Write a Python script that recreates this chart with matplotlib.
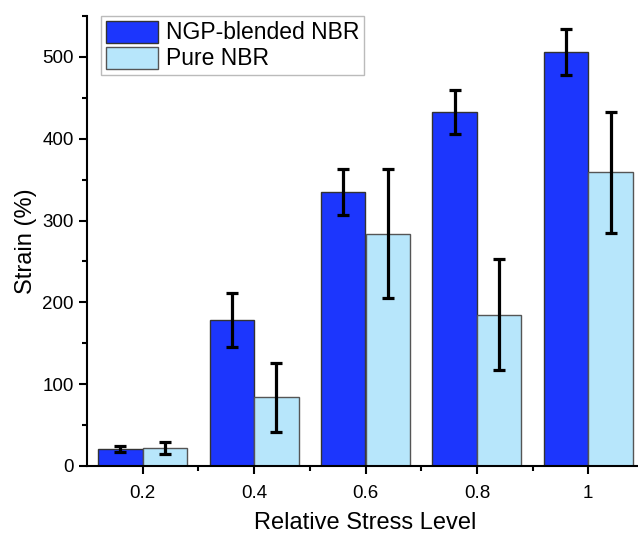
import matplotlib
matplotlib.use("Agg")
import matplotlib.pyplot as plt
import numpy as np
from matplotlib.ticker import MultipleLocator, FixedLocator

plt.rcParams['font.family'] = ['Liberation Sans', 'DejaVu Sans']

# data
stress = [0.2, 0.4, 0.6, 0.8, 1.0]
stress_labels = ["0.2", "0.4", "0.6", "0.8", "1"]
ngp_strain = [21, 178, 335, 433, 506]
ngp_err = [4, 33, 28, 27, 28]
pure_strain = [22, 84, 284, 185, 359]
pure_err = [7, 42, 79, 68, 74]

fig = plt.figure(figsize=(6.38, 5.33), dpi=100)
ax = fig.add_axes([87 / 638, 67 / 533, 557 / 638, 450 / 533])

x = np.array(stress)
w = 0.08
err_kw = dict(ecolor='black', elinewidth=2.3, capsize=4, capthick=2.3)
ax.bar(x - w / 2, ngp_strain, w, yerr=ngp_err, color='#1c36fd',
       edgecolor='#333333', linewidth=1, error_kw=err_kw, label='NGP-blended NBR')
ax.bar(x + w / 2, pure_strain, w, yerr=pure_err, color='#b7e6fb',
       edgecolor='#555555', linewidth=1, error_kw=err_kw, label='Pure NBR')

ax.set_xlim(0.1, 1.1)
ax.set_ylim(0, 550)
ax.set_xticks(stress)
ax.set_xticklabels(stress_labels)
ax.xaxis.set_minor_locator(FixedLocator([0.3, 0.5, 0.7, 0.9]))
ax.yaxis.set_major_locator(MultipleLocator(100))
ax.yaxis.set_minor_locator(MultipleLocator(50))

for s in ['top', 'right']:
    ax.spines[s].set_visible(False)
for s in ['left', 'bottom']:
    ax.spines[s].set_linewidth(1.5)
ax.tick_params(axis='both', which='major', direction='out', length=6, width=1.5, labelsize=13.5)
ax.tick_params(axis='x', which='major', pad=8)
ax.tick_params(axis='both', which='minor', direction='out', length=3.5, width=1.5)

ax.set_xlabel('Relative Stress Level', fontsize=17, labelpad=7)
ax.set_ylabel('Strain (%)', fontsize=17, labelpad=4)

leg = ax.legend(loc='upper left', bbox_to_anchor=(0.025, 1.0), fontsize=16.5,
                fancybox=False, edgecolor='#aaaaaa', handlelength=2.3,
                handleheight=1.1, handletextpad=0.35, borderpad=0.2,
                labelspacing=0.1, borderaxespad=0.0)
leg.get_frame().set_linewidth(1)

fig.savefig('out.png', dpi=100)
